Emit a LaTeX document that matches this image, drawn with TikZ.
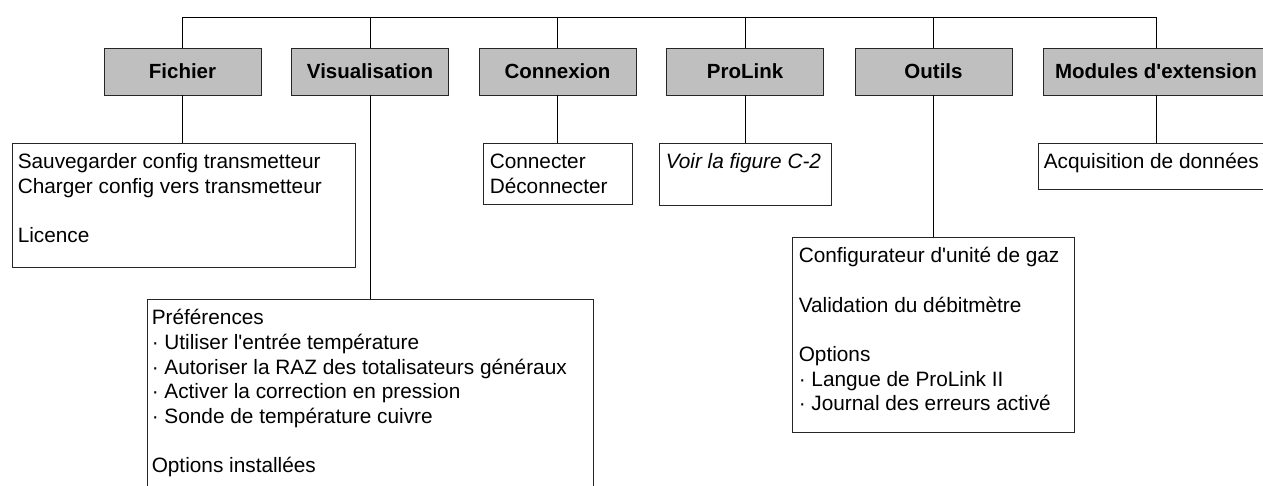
\documentclass[tikz,border=0pt]{standalone}
\usepackage{fontspec}
\setmainfont{Liberation Sans}[Ligatures=TeXOff]
\tikzset{
  link/.style={draw=black, line width=0.9pt},
  hdr/.style={draw=black!85, line width=0.9pt, fill=black!25, minimum height=47pt, minimum width=157pt, inner sep=0pt, font=\fontsize{20.5}{24.7}\selectfont\bfseries},
  subbox/.style={draw=black!85, line width=0.9pt, fill=white, inner sep=0pt},
  txt/.style={anchor=north west, inner sep=0pt, align=left, font=\fontsize{20.8}{24.7}\selectfont}
}
\begin{document}
\begin{tikzpicture}[x=1pt, y=-1pt]
\useasboundingbox (0,0) rectangle (1263,486);
\clip (0,0) rectangle (1263,486);
\coordinate (bus) at (0,17);
% header boxes
\node[hdr] (fichier) at (182.5,71.5) {Fichier};
\node[hdr] (vis) at (370,71.5) {Visualisation};
\node[hdr] (conn) at (557.5,71.5) {Connexion};
\node[hdr] (prolink) at (745,71.5) {ProLink};
\node[hdr] (outils) at (933.5,71.5) {Outils};
\node[hdr, minimum width=226pt] (modules) at (1156,71.5) {Modules d'extension};
% bus
\draw[link] (fichier.north) -- (fichier.north |- bus) -- (modules.north |- bus) -- (modules.north);
\foreach \n in {vis,conn,prolink,outils} \draw[link] (\n.north) -- (\n.north |- bus);
% sub boxes
\node[subbox, minimum width=343pt, minimum height=124pt] (fs) at (183.5,205) {};
\node[subbox, minimum width=446pt, minimum height=201pt] (vs) at (370,399.5) {};
\node[subbox, minimum width=149pt, minimum height=61pt] (cs) at (557.5,173.5) {};
\node[subbox, minimum width=172pt, minimum height=62pt] (ps) at (745,174) {};
\node[subbox, minimum width=282pt, minimum height=195pt] (os) at (933,334.5) {};
\node[subbox, minimum width=242pt, minimum height=46pt] (ms) at (1159,166) {};
% connectors
\draw[link] (fichier.south) -- (fichier.south |- fs.north);
\draw[link] (vis.south) -- (vis.south |- vs.north);
\draw[link] (conn.south) -- (conn.south |- cs.north);
\draw[link] (prolink.south) -- (prolink.south |- ps.north);
\draw[link] (outils.south) -- (outils.south |- os.north);
\draw[link] (modules.south) -- (modules.south |- ms.north);
% texts
\node[txt] (fst) at ([shift={(6,8.7)}]fs.north west) {\strut Sauvegarder config transmetteur\\Charger config vers transmetteur\\[24.7pt]Licence};
\node[txt] (vst) at ([shift={(5,8.7)}]vs.north west) {\strut Préférences\\· Utiliser l'entrée température\\· Autoriser la RAZ des totalisateurs généraux\\· Activer la correction en pression\\· Sonde de température cuivre\\[24.7pt]Options installées};
\node[txt] (cst) at ([shift={(7,8.7)}]cs.north west) {\strut Connecter\\Déconnecter};
\node[txt] (pst) at ([shift={(7,8.7)}]ps.north west) {\strut\itshape Voir la figure C-2};
\node[txt] (ost) at ([shift={(7,8.7)}]os.north west) {\strut Configurateur d'unité de gaz\\[24.7pt]Validation du débitmètre\\[24.7pt]Options\\· Langue de ProLink II\\· Journal des erreurs activé};
\node[txt] (mst) at ([shift={(6,8.7)}]ms.north west) {\strut Acquisition de données};
\end{tikzpicture}
\end{document}
